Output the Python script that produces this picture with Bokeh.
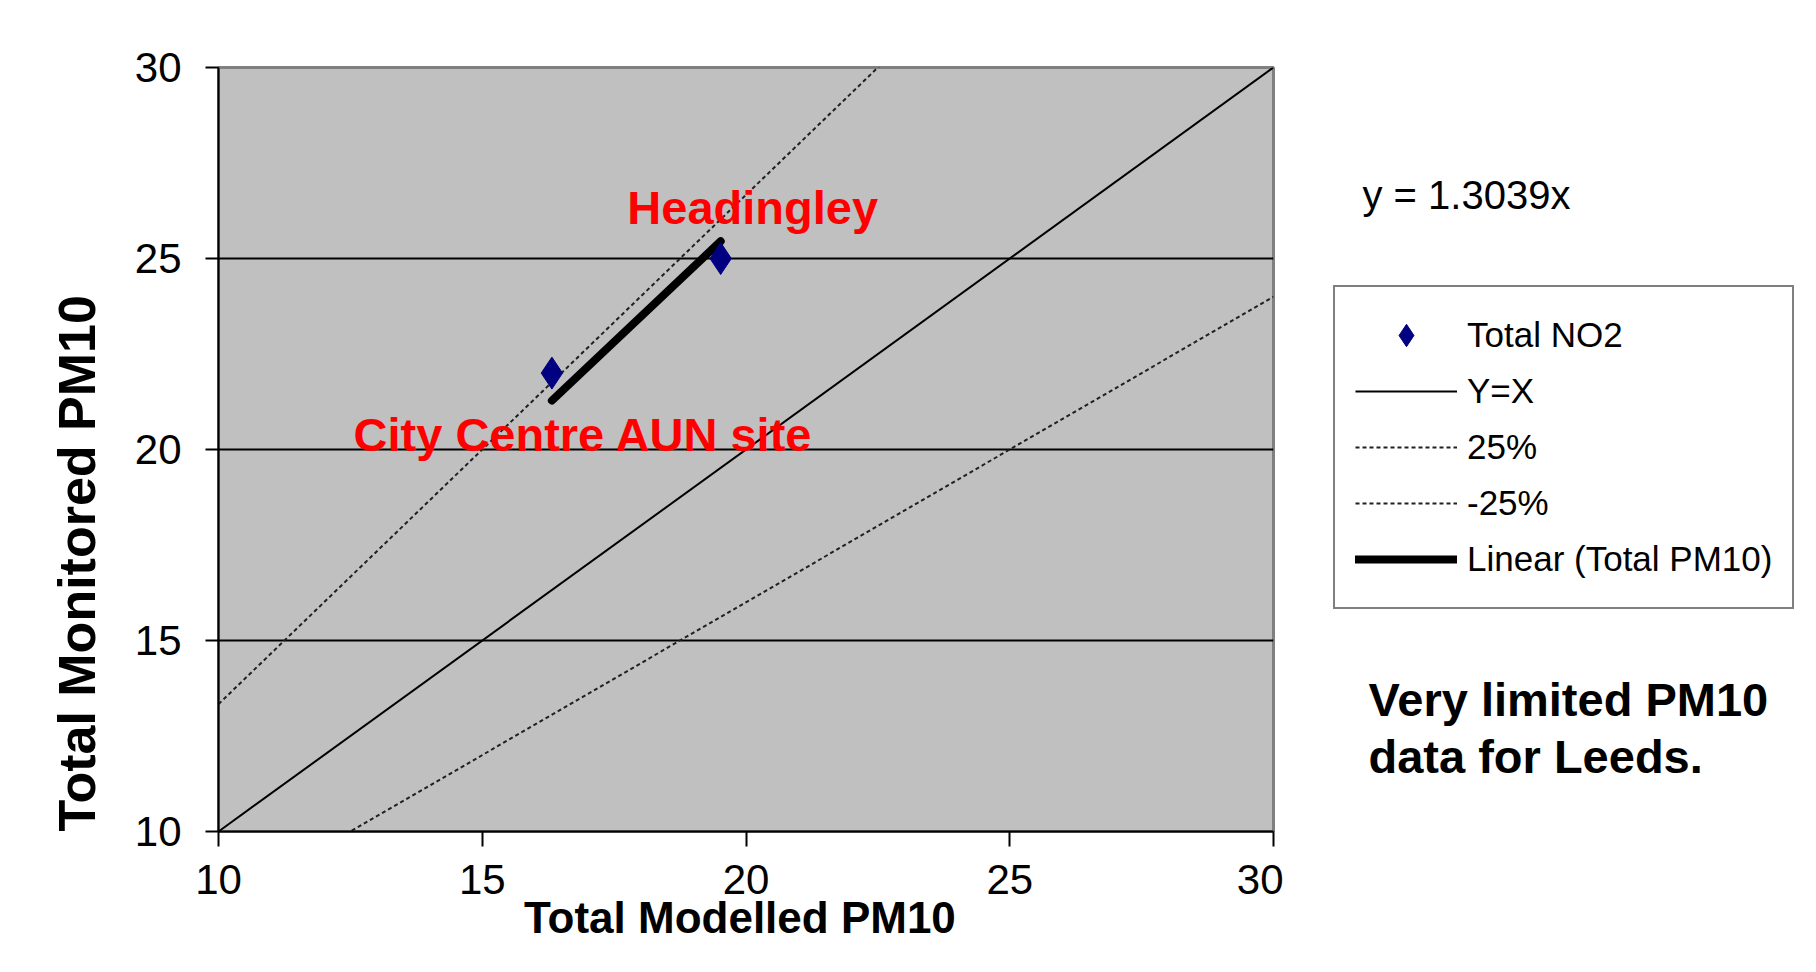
from bokeh.plotting import figure
from bokeh.layouts import row
from bokeh.models import (ColumnDataSource, FixedTicker, Label, Legend,
                          LegendItem, Range1d, Title)
from bokeh.embed import file_html
from bokeh.resources import INLINE

# data
site_names = ["City Centre AUN site", "Headingley"]
modelled_pm10 = [16.32, 19.52]
monitored_pm10 = [22.0, 25.0]
trend_slope = 1.3039            # Excel trendline through origin
x_ticks = [10, 15, 20, 25, 30]
y_ticks = [10, 15, 20, 25, 30]
upper_factor = 1 / 0.75         # "25%" line
lower_factor = 1 / 1.25         # "-25%" line
legend_labels = ["Total NO2", "Y=X", "25%", "-25%", "Linear (Total PM10)"]

FONT = "Liberation Sans"
NAN = float("nan")

# frame edges in page pixels
TOP, BOTTOM = 67, 831

# styles shared by the chart and its legend keys
diamond_style = dict(marker="diamond", size=32, fill_color="#000080", line_color="#000080")
one_style = dict(line_color="black", line_width=2)
band_style = dict(line_color="#202020", line_width=2, line_dash="4 3")
trend_style = dict(line_color="black", line_width=8, line_cap="round")

p = figure(width=1283, height=956,
           x_range=(x_ticks[0], x_ticks[-1]), y_range=(y_ticks[0], y_ticks[-1]),
           output_backend="svg", toolbar_location=None,
           min_border_left=218, min_border_right=10,
           min_border_top=TOP, min_border_bottom=956 - BOTTOM,
           background_fill_color="#C0C0C0", border_fill_color="white",
           outline_line_color="#808080", outline_line_width=3)

# reference lines
ref_x = [x_ticks[0], x_ticks[-1]]
p.line(ref_x, ref_x, **one_style)
p.line(ref_x, [v * upper_factor for v in ref_x], **band_style)
p.line(ref_x, [v * lower_factor for v in ref_x], **band_style)

# trendline over the span of the data
trend_x = [min(modelled_pm10), max(modelled_pm10)]
p.line(trend_x, [trend_slope * v for v in trend_x], **trend_style)

src = ColumnDataSource(dict(x=modelled_pm10, y=monitored_pm10, site=site_names))
p.scatter("x", "y", source=src, **diamond_style)

# axes
p.xgrid.grid_line_color = None
p.ygrid.ticker = FixedTicker(ticks=y_ticks[1:-1])
p.ygrid.grid_line_color = "black"
p.ygrid.grid_line_width = 2

for ax, ticks in ((p.xaxis[0], x_ticks), (p.yaxis[0], y_ticks)):
    ax.ticker = FixedTicker(ticks=ticks)
    ax.axis_line_color = "black"
    ax.axis_line_width = 2
    ax.major_tick_line_color = "black"
    ax.major_tick_line_width = 2
    ax.major_tick_in = 0
    ax.minor_tick_line_color = None
    ax.major_label_text_font = FONT
    ax.major_label_text_font_size = "42px"
    ax.major_label_text_color = "black"

p.yaxis.major_tick_out = 13
p.yaxis.major_label_standoff = 24
p.xaxis.major_tick_out = 15
p.xaxis.major_label_standoff = 18
p.xaxis.axis_label = "Total Modelled  PM10"
p.xaxis.axis_label_standoff = -4
p.xaxis.axis_label_text_font = FONT
p.xaxis.axis_label_text_font_style = "bold"
p.xaxis.axis_label_text_font_size = "44px"
p.xaxis.axis_label_text_color = "black"

# y title sits low along the axis, starting at the frame bottom
p.add_layout(Title(text="Total Monitored  PM10", align="left", standoff=51,
                   text_font=FONT, text_font_style="bold", text_font_size="52px",
                   text_color="black"), "left")

# site annotations
p.add_layout(Label(x=17.75, y=26.33, text="Headingley", text_color="red",
                   text_font=FONT, text_font_style="bold", text_font_size="47px",
                   text_baseline="alphabetic"))
p.add_layout(Label(x=12.56, y=20.39, text="City Centre AUN site", text_color="red",
                   text_font=FONT, text_font_style="bold", text_font_size="47px",
                   text_baseline="alphabetic"))

# right-hand panel: equation, legend and note (page pixel coordinates)
q = figure(width=517, height=956, x_range=Range1d(1283, 1800), y_range=Range1d(BOTTOM, TOP),
           output_backend="svg", toolbar_location=None,
           x_axis_location=None, y_axis_location=None,
           min_border_left=0, min_border_right=0,
           min_border_top=TOP, min_border_bottom=956 - BOTTOM,
           outline_line_color=None,
           background_fill_color="white", border_fill_color="white")
q.grid.grid_line_color = None

q.add_layout(Label(x=1362, y=194, text="y = 1.3039x", text_font=FONT,
                   text_font_size="40px", text_color="black",
                   text_baseline="alphabetic"))
q.add_layout(Label(x=1368, y=699, text="Very limited PM10", text_font=FONT,
                   text_font_style="bold", text_font_size="47px", text_color="black",
                   text_baseline="alphabetic"))
q.add_layout(Label(x=1368, y=756, text="data for Leeds.", text_font=FONT,
                   text_font_style="bold", text_font_size="47px", text_color="black",
                   text_baseline="alphabetic"))

# legend keys (empty renderers styled like the chart's)
keys = [
    q.scatter([NAN], [NAN], **diamond_style),
    q.line([NAN, NAN], [NAN, NAN], **one_style),
    q.line([NAN, NAN], [NAN, NAN], **band_style),
    q.line([NAN, NAN], [NAN, NAN], **band_style),
    q.line([NAN, NAN], [NAN, NAN], **trend_style),
]
legend = Legend(items=[LegendItem(label=t, renderers=[r]) for t, r in zip(legend_labels, keys)],
                location=(50, 222))
legend.border_line_color = "black"
legend.border_line_width = 2
legend.background_fill_color = "white"
legend.background_fill_alpha = 1.0
legend.label_text_font = FONT
legend.label_text_font_size = "35px"
legend.label_text_color = "black"
legend.glyph_width = 102
legend.glyph_height = 56
legend.label_height = 56
legend.label_standoff = 10
legend.padding = 20
legend.spacing = 0
legend.margin = 0
q.add_layout(legend, "center")

layout = row(p, q)
open("out.html", "w").write(file_html(layout, INLINE))
